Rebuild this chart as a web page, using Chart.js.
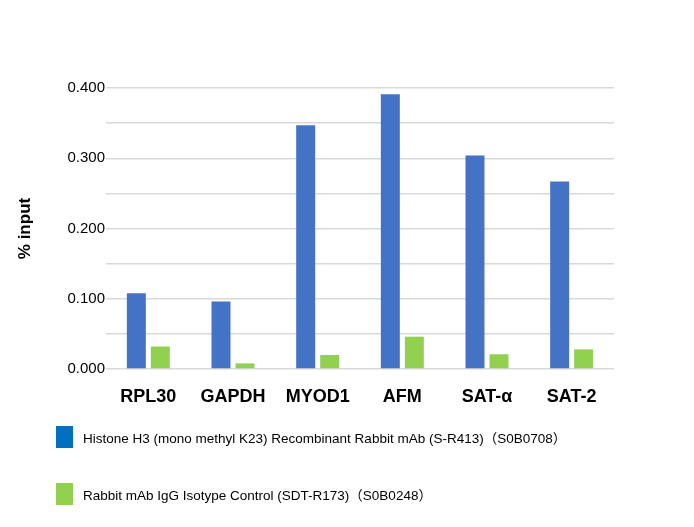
<!DOCTYPE html>
<html>
<head>
<meta charset="utf-8">
<script src="https://cdn.jsdelivr.net/npm/chart.js@4"></script>
<style>
  body { margin: 0; background: #fff; }
  #wrap { position: relative; width: 694px; height: 527px; }
  #legend { position: absolute; left: 56px; top: 426px; font-family: "Liberation Sans", "Noto Sans CJK JP", sans-serif; font-size: 13.5px; color: #000; }
  .item { display: flex; align-items: center; height: 22px; margin-bottom: 35px; }
  .box { width: 17px; height: 22px; margin-right: 10px; }
</style>
</head>
<body>
<div id="wrap">
  <canvas id="chart" width="694" height="527"></canvas>
  <div id="legend"></div>
</div>
<script>
const categories = ['RPL30', 'GAPDH', 'MYOD1', 'AFM', 'SAT-α', 'SAT-2']
const histoneValues = [0.108, 0.096, 0.347, 0.391, 0.304, 0.267]
const isotypeValues = [0.032, 0.008, 0.020, 0.046, 0.021, 0.028]
const seriesNames = [
  'Histone H3 (mono methyl K23) Recombinant Rabbit mAb (S-R413)（S0B0708）',
  'Rabbit mAb IgG Isotype Control (SDT-R173)（S0B0248）'
]
const barColors = ['#4472C4', '#92D050']
const legendColors = ['#0070C0', '#92D050']

const ctx = document.getElementById('chart')
new Chart(ctx, {
  type: 'bar',
  data: {
    labels: categories,
    datasets: [
      { label: seriesNames[0], data: histoneValues, backgroundColor: barColors[0] },
      { label: seriesNames[1], data: isotypeValues, backgroundColor: barColors[1] }
    ]
  },
  options: {
    responsive: false,
    animation: false,
    layout: { padding: { top: 88, right: 80, left: 0, bottom: 0 } },
    datasets: { bar: { barPercentage: 0.79, categoryPercentage: 0.567 } },
    plugins: { legend: { display: false }, tooltip: { enabled: false } },
    scales: {
      x: {
        grid: { display: false },
        border: { display: false },
        ticks: { color: '#000', padding: 9, font: { family: 'Liberation Sans', size: 18, weight: 'bold' } },
        afterFit: (scale) => { scale.height = 158 }
      },
      y: {
        min: 0,
        max: 0.4,
        border: { display: false },
        grid: { color: '#d9d9d9', lineWidth: 1.5, drawTicks: false },
        ticks: {
          stepSize: 0.05,
          padding: 1,
          color: '#000',
          font: { family: 'Liberation Sans', size: 15 },
          callback: (v) => Math.round(v * 1000) % 100 === 0 ? v.toFixed(3) : ''
        },
        title: {
          display: true,
          text: '% input',
          color: '#000',
          padding: { top: 15, bottom: 0 },
          font: { family: 'Liberation Sans', size: 17, weight: 'bold' }
        },
        afterFit: (scale) => { scale.width = 106 }
      }
    }
  }
})

const legend = document.getElementById('legend')
seriesNames.forEach((name, i) => {
  const item = document.createElement('div')
  item.className = 'item'
  const box = document.createElement('span')
  box.className = 'box'
  box.style.background = legendColors[i]
  const text = document.createElement('span')
  text.textContent = name
  item.appendChild(box)
  item.appendChild(text)
  legend.appendChild(item)
})
</script>
</body>
</html>
